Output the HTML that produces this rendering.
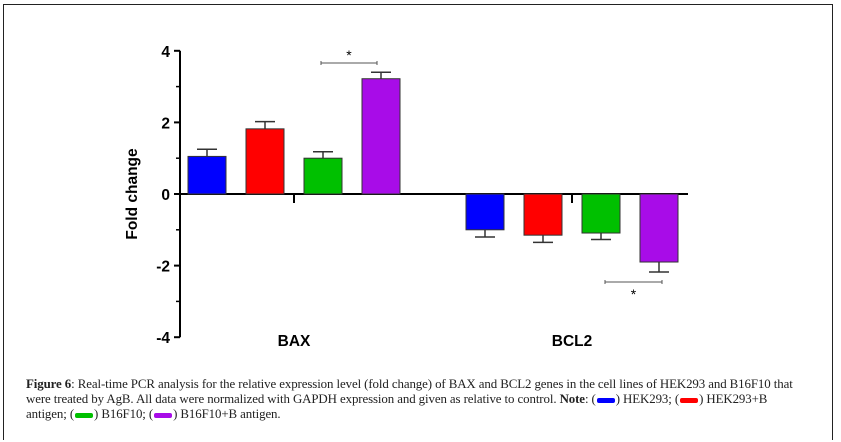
<!DOCTYPE html>
<html><head><meta charset="utf-8"><style>
body{margin:0;width:841px;height:442px;background:#fff;overflow:hidden;position:relative}
#frame{position:absolute;left:3px;top:4px;width:828px;height:435px;border:1px solid #222;border-bottom:none}
#cap{position:absolute;left:26px;top:377px;width:800px;white-space:nowrap;font-family:"Liberation Serif",serif;font-size:12.9px;line-height:15px;color:#222;letter-spacing:-0.1px}
.sw{display:inline-block;width:18px;height:5px;border-radius:2px;vertical-align:middle;margin:0 1px}
</style></head><body>
<div id="frame"></div>
<svg id="chart" width="841" height="370" style="position:absolute;left:0;top:0" font-family="Liberation Sans, sans-serif"></svg>
<div id="cap"><b>Figure 6</b>: Real-time PCR analysis for the relative expression level (fold change) of BAX and BCL2 genes in the cell lines of HEK293 and B16F10 that<br>were treated by AgB. All data were normalized with GAPDH expression and given as relative to control. <b>Note</b>: (<span class="sw" style="background:#0000ff"></span>) HEK293; (<span class="sw" style="background:#ff0000"></span>) HEK293+B<br>antigen; (<span class="sw" style="background:#00c000"></span>) B16F10; (<span class="sw" style="background:#a80ce8"></span>) B16F10+B antigen.</div>
<script>
const categories=["BAX","BCL2"];
const series=["HEK293","HEK293+B antigen","B16F10","B16F10+B antigen"];
const colors=["#0000ff","#ff0000","#00c000","#a80ce8"];
const valuesBAX=[1.05,1.82,1.0,3.22];
const errorsBAX=[0.2,0.2,0.18,0.18];
const valuesBCL2=[-1.0,-1.15,-1.09,-1.9];
const errorsBCL2=[0.2,0.2,0.18,0.28];
const yTicks=[-4,-2,0,2,4];
const yMinor=[-3,-1,1,3];
const svg=document.getElementById('chart');
const NS="http://www.w3.org/2000/svg";
const y=v=>194-v*35.8;
const groupStart=[188,466];
const x=(g,i)=>groupStart[g]+i*58;
const bw=38;
function mk(t,a,p){const e=document.createElementNS(NS,t);for(const k in a)e.setAttribute(k,a[k]);(p||svg).appendChild(e);return e;}
let ax=mk('line',{x1:180,y1:y(4),x2:180,y2:y(-4),stroke:'#000','stroke-width':2});


let xa=mk('line',{x1:180,y1:194,x2:688,y2:194,stroke:'#000','stroke-width':2});


yTicks.forEach(v=>{
  mk('line',{x1:174,y1:y(v),x2:180,y2:y(v),stroke:'#000','stroke-width':2});
  const t=mk('text',{x:170,y:y(v)+6,'text-anchor':'end','font-size':15.5,'font-weight':'bold'});
  t.textContent=v;
  
  
});
yMinor.forEach(v=>mk('line',{x1:176,y1:y(v),x2:180,y2:y(v),stroke:'#000','stroke-width':1.5}));
const yt=mk('text',{x:0,y:0,transform:'translate(137,194) rotate(-90)','text-anchor':'middle','font-size':15.5,'font-weight':'bold'});
yt.textContent='Fold change';


const vals=[valuesBAX,valuesBCL2],errs=[errorsBAX,errorsBCL2];
categories.forEach((c,g)=>{
  const cx=(x(g,0)+x(g,3)+bw)/2;
  mk('line',{x1:cx,y1:194,x2:cx,y2:203,stroke:'#000','stroke-width':2});
  const t=mk('text',{x:cx,y:346,'text-anchor':'middle','font-size':15.5,'font-weight':'bold'});
  t.textContent=c;
  
  
  vals[g].forEach((v,i)=>{
    const bx=x(g,i),top=Math.min(y(v),194),h=Math.abs(y(v)-194);
    const ey=y(v+Math.sign(v)*errs[g][i]);
    mk('line',{x1:bx+bw/2,y1:y(v),x2:bx+bw/2,y2:ey,stroke:'#333','stroke-width':1.5});
    mk('line',{x1:bx+bw/2-10,y1:ey,x2:bx+bw/2+10,y2:ey,stroke:'#333','stroke-width':1.5});
    const r=mk('rect',{x:bx,y:top,width:bw,height:h,fill:colors[i],stroke:'#333','stroke-width':1});
    
    
  });
});
function sig(x1,x2,ly,sy){
  mk('line',{x1:x1,y1:ly,x2:x2,y2:ly,stroke:'#555','stroke-width':1});
  mk('line',{x1:x1,y1:ly-2,x2:x1,y2:ly+2,stroke:'#555'});
  mk('line',{x1:x2,y1:ly-2,x2:x2,y2:ly+2,stroke:'#555'});
  const t=mk('text',{x:(x1+x2)/2,y:sy,'text-anchor':'middle','font-size':14});
  t.textContent='*';
  
  
}
sig(321,377,63,60);
sig(605,662,282,299);
</script>
</body></html>
